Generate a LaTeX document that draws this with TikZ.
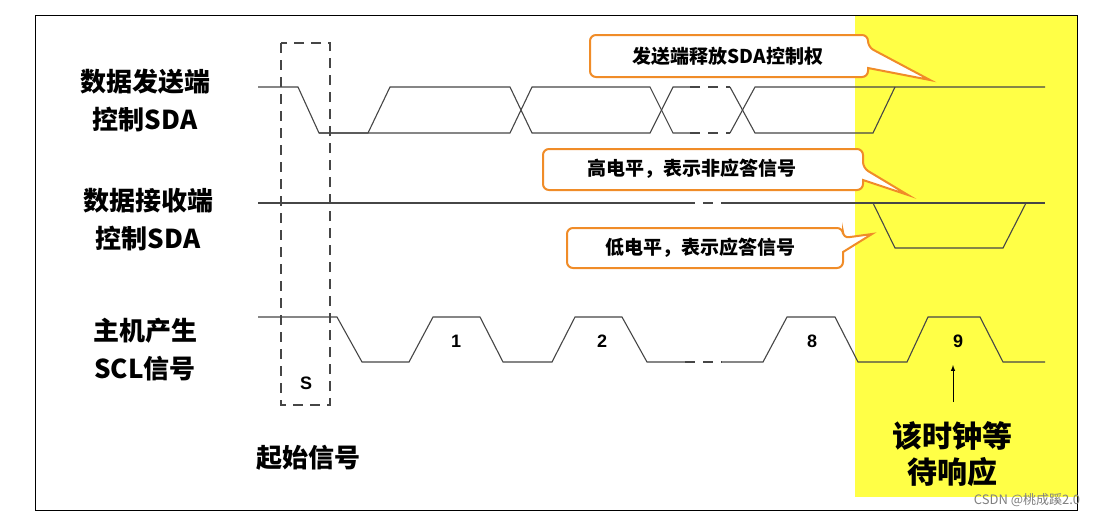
\documentclass[tikz,border=0pt]{standalone}
\usepackage{fontspec}
\setmainfont{Liberation Sans}
\newfontfamily\cjk{Noto Sans CJK SC}
\usetikzlibrary{calc}
\definecolor{callorange}{RGB}{240,140,40}
\definecolor{ackyellow}{RGB}{255,255,70}
\definecolor{wavegray}{RGB}{70,70,70}
\tikzset{
  wave/.style={draw=wavegray,line width=1.1pt},
  lbl/.style={font=\cjk\bfseries\fontsize{26}{38}\selectfont,align=center},
  num/.style={font=\bfseries\fontsize{18}{20}\selectfont},
  calltext/.style={font=\cjk\bfseries\fontsize{19}{22}\selectfont},
  callbox/.style={draw=callorange,line width=2pt,fill=white,rounded corners=6pt}
}
\begin{document}
\begin{tikzpicture}[x=1pt,y=-1pt]
      \useasboundingbox (0,0) rectangle (1113,520);
      \fill[white] (0,0) rectangle (1113,520);
      \fill[ackyellow] (855,15) rectangle (1077,497);
      \draw[line width=1pt] (35,15) rectangle (1077,510);

      % SDA from sender
      \draw[wave] (258,87) -- (298,87) -- (319,133) -- (368,133) -- (390,87) -- (510,87) -- (532,133) -- (650,133) -- (673,87) -- (690,87);
      \draw[wave] (319,133) -- (510,133) -- (532,87) -- (650,87) -- (673,133) -- (690,133);
      \draw[wave,dashed,dash pattern=on 10pt off 8pt] (690,87) -- (730,87);
      \draw[wave,dashed,dash pattern=on 10pt off 8pt] (690,133) -- (730,133);
      \draw[wave] (730,87) -- (755,133) -- (873,133) -- (895,87);
      \draw[wave] (730,133) -- (755,87) -- (1045,87);

      % SDA from receiver
      \draw[wave] (258,203) -- (685,203);
      \draw[wave,dashed,dash pattern=on 10pt off 8pt] (685,203) -- (722,203);
      \draw[wave] (722,203) -- (1045,203);
      \draw[wave] (873,203) -- (895,248) -- (1003,248) -- (1026,203);

      % SCL
      \draw[wave] (258,317) -- (337,317) -- (362,362) -- (409,362) -- (433,317) -- (480,317) -- (503,362) -- (552,362) -- (575,317) -- (622,317) -- (647,362) -- (685,362);
      \draw[wave,dashed,dash pattern=on 10pt off 8pt] (685,362) -- (722,362);
      \draw[wave] (722,362) -- (763,362) -- (787,317) -- (835,317) -- (858,362) -- (907,362) -- (928,317) -- (980,317) -- (1003,362) -- (1045,362);
      \node[num] (n1) at (456,341) {1};
      \node[num] (n2) at (602,341) {2};
      \node[num] (n8) at (812,341) {8};
      \node[num] (n9) at (958,341) {9};

      % start box
      \draw[wave,dashed,dash pattern=on 10pt off 7pt] (281,43) rectangle (330,405);
      \node[num] (s) at (306,383) {S};
      \node[lbl] (start) at (308,458) {起始信号};

      % left labels
      \node[lbl] (tx) at (145,100) {数据发送端\\控制SDA};
      \node[lbl] (rx) at (148,220) {数据接收端\\控制SDA};
      \node[lbl] (clk) at (145,350) {主机产生\\SCL信号};

      % wait note
      \node[lbl,font=\cjk\bfseries\fontsize{30}{36}\selectfont] (wait) at (952,454) {该时钟等\\待响应};
      \coordinate (arrtail) at (953,402);
      \draw[-latex,line width=1pt] (arrtail) -- (arrtail |- 0,365);

      % callouts
      \draw[callbox] (590,35) -- (868,35) -- (868,47) [sharp corners] -- (930,80) -- (868,68) [rounded corners=6pt] -- (868,77) -- (590,77) -- cycle;
      \node[calltext] (rel) at (728,56) {发送端释放SDA控制权};
      \draw[callbox] (543,149) -- (863,149) -- (863,168) [sharp corners] -- (908,195) -- (863,180) [rounded corners=6pt] -- (863,190) -- (543,190) -- cycle;
      \node[calltext] (nack) at (692,169) {高电平，表示非应答信号};
      \draw[callbox] (567,228) -- (843,228) -- (843,238) [sharp corners] -- (872,234) -- (843,252) [rounded corners=6pt] -- (843,268) -- (567,268) -- cycle;
      \node[calltext] (ack) at (700,248) {低电平，表示应答信号};

      \node[font=\cjk\fontsize{13}{15}\selectfont,text=gray] (mark) at (1027,500) {CSDN @桃成蹊2.0};
\end{tikzpicture}
\end{document}
